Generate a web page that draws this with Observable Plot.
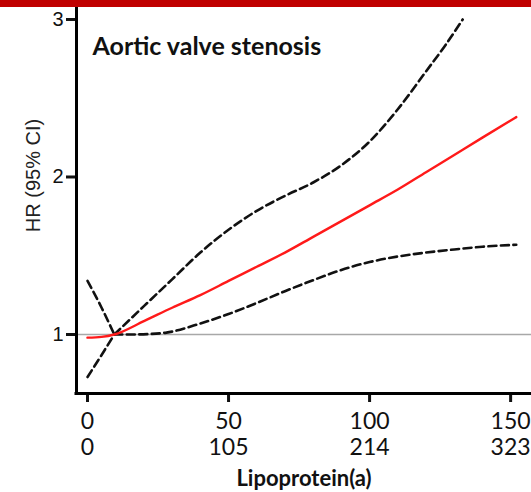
<!DOCTYPE html>
<html>
<head>
<meta charset="utf-8">
<script src="https://cdn.jsdelivr.net/npm/d3@7"></script>
<script src="https://cdn.jsdelivr.net/npm/@observablehq/plot@0.6"></script>
<style>
  html, body { margin: 0; padding: 0; background: #fff; }
  #chart { width: 531px; border-top: 7px solid #c00000; }
  #chart svg { display: block; }
</style>
</head>
<body>
<div id="chart"></div>
<script>
// Hazard ratio for aortic valve stenosis across lipoprotein(a) levels (mg/dL)
const hrLpa   = [0, 5, 9.5, 20, 30, 40, 50, 60, 70, 80, 90, 100, 110, 120, 130, 140, 152];
const hrValue = [0.98, 0.985, 1.0, 1.085, 1.17, 1.25, 1.34, 1.43, 1.52, 1.62, 1.72, 1.82, 1.92, 2.03, 2.14, 2.25, 2.38];

// 95% confidence limits; both pinch to 1 at the reference level
const refLpa = 9.5;
const lowerLpa   = [0, 5, 9.5, 15, 22, 28, 40, 50, 60, 70, 80, 90, 100, 110, 120, 130, 140, 152];
const lowerValue = [0.73, 0.87, 1.0, 1.0, 1.003, 1.012, 1.07, 1.13, 1.20, 1.275, 1.345, 1.41, 1.46, 1.495, 1.52, 1.54, 1.557, 1.57];
const upperLpa   = [0, 5, 9.5, 20, 30, 40, 50, 60, 70, 80, 90, 100, 110, 120, 127, 133];
const upperValue = [1.34, 1.17, 1.0, 1.18, 1.35, 1.52, 1.665, 1.785, 1.88, 1.965, 2.075, 2.225, 2.43, 2.67, 2.84, 3.0];

// Two rows of x tick labels: mg/dL and nmol/L
const xTicks = [0, 50, 100, 150];
const xLabelsMg = ["0", "50", "100", "150"];
const xLabelsNmol = ["0", "105", "214", "323"];
const yTicks = [1, 2, 3];

const title = "Aortic valve stenosis";
const xTitle = "Lipoprotein(a)";
const yTitle = "HR (95% CI)";

const xDomain = [-3.9, 157.4];
const yDomain = [0.6254, 3.076];

const hr = hrLpa.map((x, i) => ({x, y: hrValue[i]}));
// split each limit at the reference point so the crossing stays sharp
function limitRows(xs, ys) {
  const rows = [];
  xs.forEach((x, i) => {
    if (x <= refLpa) rows.push({x, y: ys[i], seg: "a"});
    if (x >= refLpa) rows.push({x, y: ys[i], seg: "b"});
  });
  return rows;
}
const lower = limitRows(lowerLpa, lowerValue);
const upper = limitRows(upperLpa, upperValue);

const dash = {stroke: "#111", strokeWidth: 2.6, strokeDasharray: "8,4.5", curve: "monotone-x", z: "seg"};
const tickFont = {fontSize: 23, fontFamily: "Lato, sans-serif", fill: "#111", lineAnchor: "middle", frameAnchor: "bottom"};

const plot = Plot.plot({
  width: 531,
  height: 485,
  marginLeft: 76,
  marginRight: 0,
  marginTop: 0,
  marginBottom: 99,
  x: {domain: xDomain},
  y: {domain: yDomain},
  style: {background: "#fff", color: "#111"},
  marks: [
    Plot.ruleY([1], {stroke: "#a8a8a8", strokeWidth: 1.5}),
    Plot.line(lower, {x: "x", y: "y", ...dash}),
    Plot.line(upper, {x: "x", y: "y", ...dash}),
    Plot.line(hr, {x: "x", y: "y", stroke: "#ff1a1a", strokeWidth: 2.4, curve: "monotone-x"}),
    Plot.axisY({ticks: yTicks, tickSize: 10, tickPadding: 3, strokeWidth: 3, tickFormat: (d) => String(d),
      fontSize: 20, fontFamily: "Liberation Sans, Arial, sans-serif", label: null}),
    Plot.axisX({ticks: xTicks, tickSize: 9, strokeWidth: 3, tickFormat: () => "", label: null}),
    Plot.text(xTicks, {x: (d) => d, text: (d, i) => xLabelsMg[i], dy: 28.5, ...tickFont}),
    Plot.text(xTicks, {x: (d) => d, text: (d, i) => xLabelsNmol[i], dy: 54, ...tickFont}),
    Plot.ruleX([xDomain[0]], {stroke: "#000", strokeWidth: 3, strokeLinecap: "square"}),
    Plot.ruleY([yDomain[0]], {stroke: "#000", strokeWidth: 3, strokeLinecap: "square"}),
    Plot.text([title], {frameAnchor: "top-left", dx: 16, dy: 39, textAnchor: "start", lineAnchor: "middle",
      fontSize: 25, fontWeight: "bold", fontFamily: "Lato, sans-serif", fill: "#111"}),
    Plot.text([xTitle], {frameAnchor: "bottom", dy: 85, lineAnchor: "middle",
      fontSize: 22, fontWeight: "bold", fontFamily: "Lato, sans-serif", fill: "#111"}),
    Plot.text([yTitle], {frameAnchor: "left", dx: -43, dy: -25, rotate: -90, textAnchor: "middle", lineAnchor: "middle",
      fontSize: 20, fontFamily: "Liberation Sans, Arial, sans-serif", fill: "#222"})
  ]
});
document.getElementById("chart").appendChild(plot);
</script>
</body>
</html>
